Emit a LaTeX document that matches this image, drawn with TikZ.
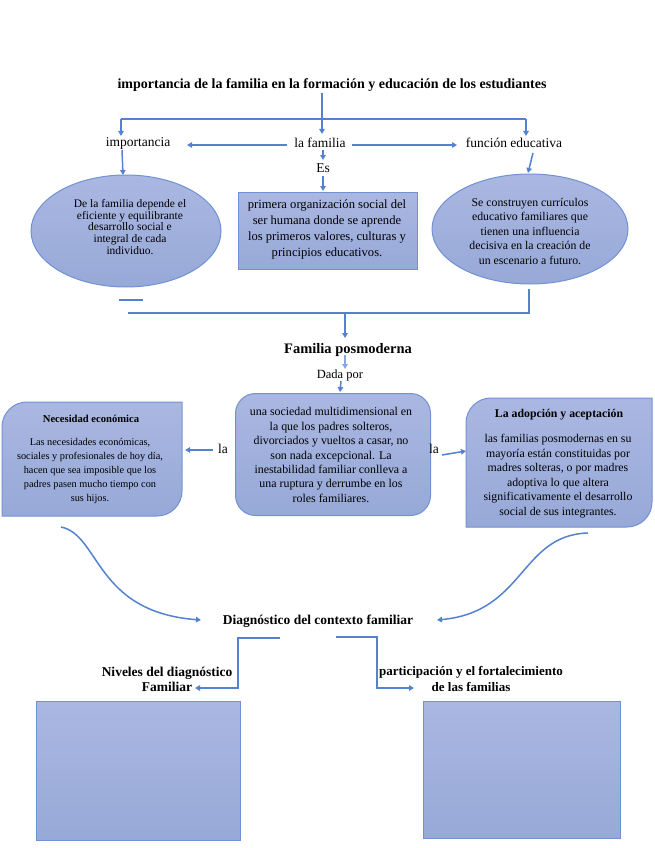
\documentclass[tikz,border=0pt]{standalone}
\usepackage{fontspec}
\setmainfont{Liberation Serif}
\usetikzlibrary{shapes.geometric,arrows.meta}
\definecolor{lnc}{RGB}{84,130,208}
\definecolor{bdc}{RGB}{112,146,212}
\definecolor{ftop}{RGB}{170,183,225}
\definecolor{fbot}{RGB}{151,169,216}
\tikzset{
  arr/.style={draw=lnc, line width=1.5pt, -{Triangle[length=5pt,width=5.5pt]}},
  ln/.style={draw=lnc, line width=1.5pt},
  shp/.style={draw=bdc, line width=1pt, top color=ftop, bottom color=fbot},
  lbl/.style={inner sep=0pt, font=\fontsize{13.5}{15}\selectfont},
  bld/.style={inner sep=0pt, font=\bfseries\fontsize{13.5}{15}\selectfont, align=center},
  txt/.style={inner sep=0pt, align=center},
}
\begin{document}
\begin{tikzpicture}[x=1pt,y=-1pt]
\useasboundingbox (0,0) rectangle (655,848);

% ---------- top section ----------
\node[inner sep=0pt, font=\bfseries\fontsize{14}{16}\selectfont] (title) at (332,85)
  {importancia de la familia en la formación y educación de los estudiantes};
\node[lbl] (imp) at (138,143) {importancia};
\node[lbl] (fam) at (320,143) {la familia};
\node[lbl] (fun) at (514,143) {función educativa};
\node[lbl] (es) at (323,168) {Es};

\coordinate (jt) at (322,93);
\coordinate (jl) at (121,119);
\coordinate (jr) at (526,119);
\draw[ln] (jl) -- (jr);
\draw[arr] (jt) -- (322,134);
\draw[arr] (jl) -- (121,136);
\draw[arr] (jr) -- (526,136);
\draw[arr] (287,145) -- (187,145);
\draw[arr] (352,145) -- (457,145);
\draw[arr] (323,150) -- (323,160);
\draw[arr] (323,176) -- (323,191);
\draw[arr] (122,150) -- (123,175);
\draw[arr] (533,153) -- (528,173);

% left ellipse
\node[shp, ellipse, minimum width=190pt, minimum height=112pt, inner sep=0pt] (ell1) at (126,231) {};
\node[txt, font=\fontsize{11.5}{11.7}\selectfont] (ell1t) at (130,227)
  {De la familia depende el\\eficiente y equilibrante\\desarrollo social e\\integral de cada\\individuo.};

% middle box
\node[shp, minimum width=179pt, minimum height=77pt, anchor=north west, inner sep=0pt] (box1) at (238,192) {};
\node[txt, font=\fontsize{12.6}{16}\selectfont] (box1t) at (327,229)
  {primera organización social del\\ser humana donde se aprende\\los primeros valores, culturas y\\principios educativos.};

% right ellipse
\node[shp, ellipse, minimum width=196pt, minimum height=110pt, inner sep=0pt] (ell2) at (530,229) {};
\node[txt, font=\fontsize{11.8}{14.5}\selectfont] (ell2t) at (530,231)
  {Se construyen currículos\\educativo familiares que\\tienen una influencia\\decisiva en la creación de\\un escenario a futuro.};

% lines under
\draw[ln] (119,300) -- (143,300);
\coordinate (er) at (529,289);
\coordinate (hr) at (529,313);
\coordinate (hl) at (128,313);
\draw[ln] (er) -- (hr) -- (hl);

% ---------- middle section ----------
\node[inner sep=0pt, font=\bfseries\fontsize{14.5}{16}\selectfont] (pos) at (348,350) {Familia posmoderna};
\node[inner sep=0pt, font=\fontsize{12.5}{14}\selectfont] (dada) at (340,375) {Dada por};
\draw[arr] (345,313) -- (345,338);
\draw[arr, lnc!70] (345,355) -- (345,369);
\draw[arr] (341,381) -- (340,392);

% center rounded box
\node[shp, rounded corners=20pt, minimum width=195pt, minimum height=122pt, anchor=north west, inner sep=0pt] (cbox) at (235,393) {};
\node[txt, font=\fontsize{11.9}{14.4}\selectfont] (cboxt) at (331,455)
  {una sociedad multidimensional en\\la que los padres solteros,\\divorciados y vueltos a casar, no\\son nada excepcional. La\\inestabilidad familiar conlleva a\\una ruptura y derrumbe en los\\roles familiares.};

\node[lbl] (la1) at (223,449) {la};
\node[lbl] (la2) at (434,449) {la};
\draw[arr] (213,450) -- (185,450);
\draw[arr] (442,455) -- (466,451);

% left box
\draw[shp] (2,516) -- (2,460) [rounded corners=25pt] -- (2,402) -- (100,402) [sharp corners] -- (182,402) -- (182,460) [rounded corners=25pt] -- (182,516) -- (100,516) [sharp corners] -- cycle;
\node[inner sep=0pt, font=\bfseries\fontsize{10.6}{12}\selectfont] (lbt) at (91,419) {Necesidad económica};
\node[txt, font=\fontsize{10.3}{14}\selectfont] (lbb) at (90,471)
  {Las necesidades económicas,\\sociales y profesionales de hoy día,\\hacen que sea imposible que los\\padres pasen mucho tiempo con\\sus hijos.};

% right box
\draw[shp] (466,527) -- (466,470) [rounded corners=25pt] -- (466,398) -- (560,398) [sharp corners] -- (652,398) -- (652,470) [rounded corners=25pt] -- (652,527) -- (560,527) [sharp corners] -- cycle;
\node[inner sep=0pt, font=\bfseries\fontsize{11.8}{13}\selectfont] (rbt) at (559,415) {La adopción y aceptación};
\node[txt, font=\fontsize{11.8}{14.5}\selectfont] (rbb) at (558,476)
  {las familias posmodernas en su\\mayoría están constituidas por\\madres solteras, o por madres\\adoptiva lo que altera\\significativamente el desarrollo\\social de sus integrantes.};

% ---------- bottom section ----------
\node[bld] (diag) at (318,621) {Diagnóstico del contexto familiar};
\coordinate (c1) at (61,527);
\coordinate (c2) at (201,620);
\coordinate (c3) at (588,533);
\coordinate (c4) at (437,620);
\draw[arr] (c1) .. controls (100,535) and (95,612) .. (c2);
\draw[arr] (c3) .. controls (520,535) and (525,612) .. (c4);

\node[bld] (niv) at (167,679) {Niveles del diagnóstico\\Familiar};
\node[inner sep=0pt, align=center, font=\bfseries\fontsize{13}{15.5}\selectfont] (par) at (471,679)
  {participación y el fortalecimiento\\de las familias};
\draw[arr] (280,638) -- (238,638) -- (238,688) -- (195,688);
\draw[arr] (336,637) -- (377,637) -- (377,688) -- (414,688);

\node[shp, minimum width=204pt, minimum height=139pt, anchor=north west, inner sep=0pt] (bl) at (36,701) {};
\node[shp, minimum width=197pt, minimum height=137pt, anchor=north west, inner sep=0pt] (br) at (423,701) {};
\end{tikzpicture}
\end{document}
